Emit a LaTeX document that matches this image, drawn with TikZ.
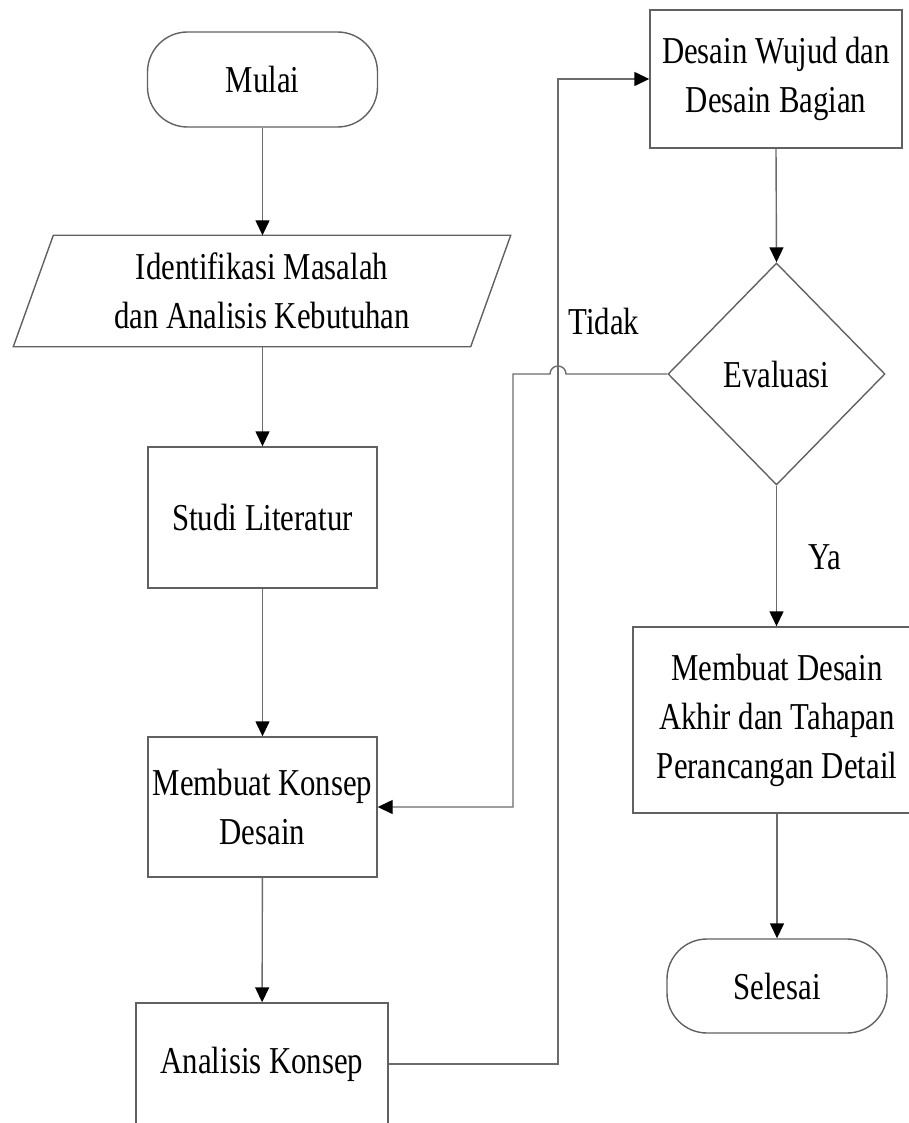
\documentclass[tikz,border=0pt]{standalone}
\usepackage{fontspec}
\setmainfont{Liberation Serif}[FakeStretch=0.81]
\usetikzlibrary{shapes.geometric,arrows.meta}
\begin{document}
\begin{tikzpicture}[x=1pt,y=-1pt,
  every node/.style={font=\fontsize{38}{49}\selectfont, align=center, inner sep=0pt},
  outl/.style={draw=black!62, line width=1.4pt},
  box/.style={outl, rectangle},
  term/.style={outl, rectangle, rounded corners=40pt},
  decis/.style={outl, diamond},
  conn/.style={draw=black!58, line width=1.4pt, -{Triangle[length=15pt,width=14pt,color=black]}},
  link/.style={draw=black!58, line width=1.4pt}]
\useasboundingbox (0,0) rectangle (909,1123);
\clip (0,0) rectangle (909,1123);

% left column
\node[term, minimum width=230pt, minimum height=95pt] (mulai) at (262.5,79.5) {Mulai};
\node[minimum width=497pt, minimum height=111pt] (ident) at (262,291) {Identifikasi Masalah\\dan Analisis Kebutuhan};
\draw[outl] ([xshift=40pt]ident.north west) -- (ident.north east) -- ([xshift=-40pt]ident.south east) -- (ident.south west) -- cycle;
\node[box, minimum width=229pt, minimum height=141pt] (studi) at (262.5,517.5) {Studi Literatur};
\node[box, minimum width=229pt, minimum height=140pt] (konsep) at (262.5,807) {Membuat Konsep\\Desain};
\node[box, minimum width=252pt, minimum height=122pt] (analisis) at (262,1064) {Analisis Konsep};

% right column
\node[box, minimum width=252pt, minimum height=138pt] (wujud) at (776,79) {Desain Wujud dan\\Desain Bagian};
\node[decis, minimum width=217pt, minimum height=222pt] (eval) at (776.5,374) {Evaluasi};
\node[box, minimum width=288pt, minimum height=186pt] (akhir) at (777,720) {Membuat Desain\\Akhir dan Tahapan\\Perancangan Detail};
\node[term, minimum width=220pt, minimum height=94pt] (selesai) at (777,986) {Selesai};

% labels
\node (tidak) at (604,322) {Tidak};
\node (ya) at (825,557) {Ya};

% connectors
\draw[conn] (mulai.south) -- (mulai.south |- ident.north);
\draw[conn] (ident.south -| studi.north) -- (studi.north);
\draw[conn] (studi) -- (konsep);
\draw[conn] (konsep) -- (analisis);

\coordinate (a1) at (558,1064);
\coordinate (a2) at (558,79);
\draw[conn] (analisis.east) -- (a1) -- (a2) -- (wujud.west);

\draw[conn] (wujud.south) -- (eval.north);

\coordinate (h1) at (566,374);
\coordinate (t1) at (513,374);
\coordinate (t2) at (513,807);
\draw[conn] (eval.west) -- (h1) arc[start angle=0, end angle=180, radius=8pt] -- (t1) -- (t2) -- (konsep.east);

\draw[conn] (eval.south) -- (eval.south |- akhir.north);
\draw[conn] (akhir.south) -- (selesai.north);
\end{tikzpicture}
\end{document}
